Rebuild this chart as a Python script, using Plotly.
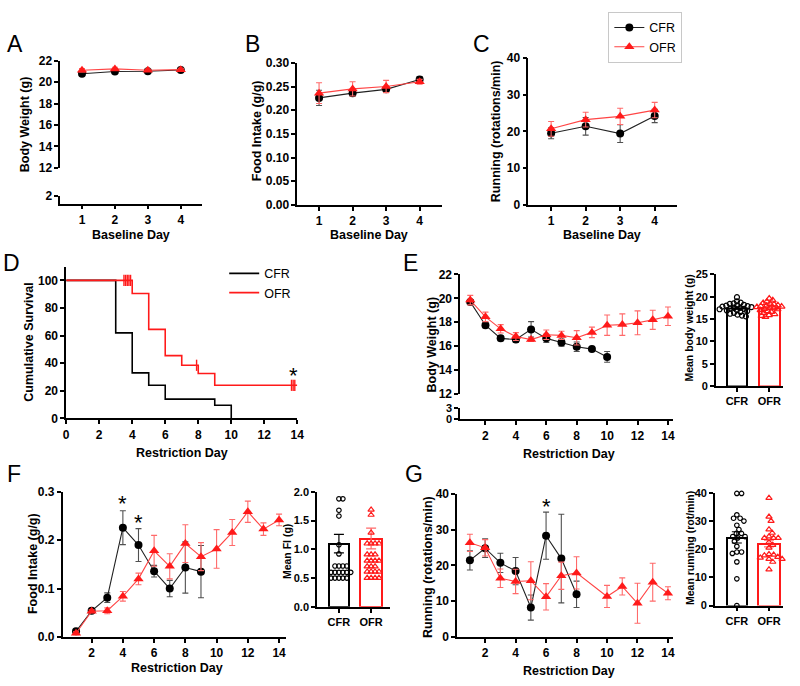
import math
import plotly.graph_objects as go

W, H = 800, 686
BLACK = '#000000'
RED = '#ff1a1a'
RED_LINE = '#ff4545'
RED_ERR = '#ff6a6a'
GREY_ERR = '#505050'
FONT = 'Arial, "Liberation Sans", Helvetica, sans-serif'

# ---------------- DATA ----------------
base_days = [1, 2, 3, 4]
bw_base_cfr = [20.8, 21.0, 21.03, 21.15]
bw_base_cfr_err = [0.15, 0.12, 0.1, 0.1]
bw_base_ofr = [21.12, 21.25, 21.12, 21.18]
bw_base_ofr_err = [0.15, 0.15, 0.12, 0.12]

fi_base_cfr = [0.226, 0.236, 0.244, 0.265]
fi_base_cfr_err = [0.016, 0.006, 0.006, 0.006]
fi_base_ofr = [0.236, 0.245, 0.250, 0.260]
fi_base_ofr_err = [0.022, 0.015, 0.013, 0.005]

run_base_cfr = [19.5, 21.4, 19.4, 24.2]
run_base_cfr_err = [1.5, 2.4, 2.4, 1.8]
run_base_ofr = [20.7, 23.2, 24.1, 25.8]
run_base_ofr_err = [2.0, 2.0, 2.2, 2.1]

surv_cfr_day = [0, 3, 4, 5, 6, 9, 10]
surv_cfr = [100, 62, 33, 24, 14, 9.5, 0]
surv_ofr_day = [0, 4, 5, 6, 7, 8, 9, 14]
surv_ofr = [100, 90.5, 64.5, 45.5, 38.5, 32.5, 24, 24]
cens_day = [3.5, 3.6, 3.7, 3.8, 3.9, 7.9, 13.65, 13.75, 13.85]
cens_val = [100, 100, 100, 100, 100, 38.5, 24, 24, 24]

days_cfr = [1, 2, 3, 4, 5, 6, 7, 8, 9, 10]
days_ofr = [1, 2, 3, 4, 5, 6, 7, 8, 9, 10, 11, 12, 13, 14]
bw_cfr = [19.7, 17.75, 16.65, 16.55, 17.4, 16.65, 16.3, 15.95, 15.75, 15.1]
bw_cfr_err = [0.2, 0.2, 0.2, 0.25, 0.65, 0.35, 0.3, 0.4, 0.08, 0.45]
bw_ofr = [19.85, 18.45, 17.45, 16.8, 16.55, 16.95, 16.9, 16.7, 17.15, 17.75, 17.8, 17.95, 18.2, 18.5]
bw_ofr_err = [0.4, 0.4, 0.35, 0.33, 0.15, 0.4, 0.35, 0.6, 0.44, 0.85, 0.9, 1.0, 0.8, 0.77]

groups = ['CFR', 'OFR']
bw_mean = [17.5, 17.5]
bw_mean_err = [0.25, 0.22]
bw_pts_cfr = [19.9, 19.0, 18.7, 18.5, 18.4, 18.2, 18.1, 18.0, 17.9, 17.8, 17.7, 17.6,
              17.5, 17.4, 17.3, 17.2, 17.0, 16.9, 16.8, 16.6, 16.4, 16.2, 16.0, 15.8, 15.6]
bw_pts_ofr = [19.6, 19.2, 18.9, 18.6, 18.4, 18.3, 18.1, 18.0, 17.9, 17.8, 17.7, 17.6,
              17.5, 17.4, 17.3, 17.2, 17.0, 16.8, 16.6, 16.4, 16.1, 15.9, 15.7, 15.5]

fi_cfr = [0.0115, 0.054, 0.081, 0.226, 0.190, 0.136, 0.100, 0.1435, 0.135]
fi_cfr_err = [0.003, 0.003, 0.01, 0.035, 0.034, 0.012, 0.017, 0.053, 0.054]
fi_ofr = [0.0075, 0.053, 0.054, 0.084, 0.120, 0.178, 0.146, 0.193, 0.166, 0.182, 0.216, 0.259, 0.223, 0.242]
fi_ofr_err = [0.003, 0.003, 0.006, 0.01, 0.012, 0.032, 0.026, 0.039, 0.029, 0.04, 0.027, 0.022, 0.013, 0.012]
days_fi_cfr = [1, 2, 3, 4, 5, 6, 7, 8, 9]

fi_mean = [1.10, 1.19]
fi_mean_err = [0.16, 0.18]
fi_pts_cfr = [1.88, 1.88, 1.68, 1.58, 1.08, 0.92, 0.71, 0.71, 0.71, 0.71,
              0.60, 0.60, 0.60, 0.60, 0.60, 0.60, 0.50, 0.50, 0.50, 0.50, 0.50]
fi_pts_ofr = [1.69, 1.60, 1.29, 1.10, 1.10, 1.10, 1.10, 0.91, 0.91, 0.91,
              0.80, 0.80, 0.80, 0.80, 0.70, 0.70, 0.70, 0.61, 0.61, 0.61, 0.61,
              0.50, 0.50, 0.50, 0.50]

days_run_cfr = [1, 2, 3, 4, 5, 6, 7, 8]
run_cfr = [21.4, 24.8, 20.7, 18.4, 8.2, 28.3, 21.9, 11.9]
run_cfr_err = [2.7, 2.6, 2.7, 3.8, 3.5, 6.6, 12.4, 3.7]
days_run_ofr = [1, 2, 3, 4, 5, 6, 7, 8, 10, 11, 12, 13, 14]
run_ofr = [26.3, 24.9, 16.4, 15.5, 15.7, 11.2, 17.1, 17.9, 11.3, 14.1, 9.4, 15.3, 12.2]
run_ofr_err = [2.4, 2.3, 2.6, 3.4, 5.3, 3.7, 3.8, 4.5, 3.1, 2.4, 5.6, 5.3, 1.8]

run_mean = [24.2, 22.0]
run_mean_err = [2.0, 1.2]
run_pts_cfr = [39.8, 39.8, 32.2, 31.0, 31.0, 30.0, 28.5, 27.0, 25.6, 25.6, 24.5,
               24.5, 24.0, 22.8, 21.0, 19.0, 19.0, 18.5, 15.5, 9.5, 0.0]
run_pts_ofr = [38.2, 31.5, 30.0, 27.0, 25.8, 24.5, 24.0, 24.0, 24.0, 22.5, 21.5,
               20.5, 18.2, 18.0, 17.8, 17.2, 17.0, 16.5, 16.5, 15.5, 12.8]


# ---------------- helpers ----------------
def dxp(a, b):
    return [a / W, b / W]


def dyp(top, bottom):
    return [1 - bottom / H, 1 - top / H]


def swarm(vals, center, ppu_y, ppu_x, d):
    order = sorted(range(len(vals)), key=lambda i: -vals[i])
    placed = []
    xs = [0.0] * len(vals)
    for i in order:
        y = vals[i] * ppu_y
        forb = []
        for (px_, py_) in placed:
            ddy = abs(py_ - y)
            if ddy < d:
                w = math.sqrt(d * d - ddy * ddy)
                forb.append((px_ - w, px_ + w))
        cands = [0.0] + [a for iv in forb for a in iv]
        cands.sort(key=lambda c: (round(abs(c), 6), -c))
        chosen = 0.0
        for c in cands:
            if all(not (lo + 1e-6 < c < hi - 1e-6) for lo, hi in forb):
                chosen = c
                break
        placed.append((chosen, y))
        xs[i] = center + chosen / ppu_x
    return xs


TICKFONT = dict(family=FONT, size=12, color='black', weight='bold')
TICKFONT_S = dict(family=FONT, size=11, color='black', weight='bold')


def xax(dom, rng, anchor, **kw):
    d = dict(domain=dxp(*dom), range=rng, anchor=anchor, showline=True, linecolor='black',
             linewidth=1.6, ticks='outside', ticklen=4, tickwidth=1.6, tickcolor='black',
             showgrid=False, zeroline=False, tickfont=TICKFONT, fixedrange=True)
    d.update(kw)
    return d


def yax(dom, rng, anchor, **kw):
    d = dict(domain=dyp(*dom), range=rng, anchor=anchor, showline=True, linecolor='black',
             linewidth=1.6, ticks='outside', ticklen=4, tickwidth=1.6, tickcolor='black',
             showgrid=False, zeroline=False, tickfont=TICKFONT, fixedrange=True)
    d.update(kw)
    return d


fig = go.Figure()


def line_pair(xa, ya, xc, yc, ec, xo, yo, eo, showlegend=False, msize=8):
    fig.add_trace(go.Scatter(
        x=xc, y=yc, xaxis=xa, yaxis=ya, mode='lines+markers', name='CFR',
        line=dict(color='#222222', width=1.1),
        marker=dict(symbol='circle', size=msize, color=BLACK),
        error_y=dict(type='data', array=ec, color=GREY_ERR, thickness=1.1, width=3),
        showlegend=showlegend, legend='legend', cliponaxis=False, hoverinfo='skip'))
    fig.add_trace(go.Scatter(
        x=xo, y=yo, xaxis=xa, yaxis=ya, mode='lines+markers', name='OFR',
        line=dict(color=RED_LINE, width=1.1),
        marker=dict(symbol='triangle-up', size=msize + 1, color=RED),
        error_y=dict(type='data', array=eo, color=RED_ERR, thickness=1.1, width=3),
        showlegend=showlegend, legend='legend', cliponaxis=False, hoverinfo='skip'))


def bar_panel(xa, ya, means, errs, pc, po, ppu_y, ppu_x, dist, msize):
    fig.add_trace(go.Bar(x=[0], y=[means[0]], xaxis=xa, yaxis=ya, width=0.64,
                         marker=dict(color='white', line=dict(color=BLACK, width=2)),
                         error_y=dict(type='data', array=[errs[0]], color=BLACK, thickness=1.2, width=5),
                         showlegend=False, hoverinfo='skip'))
    fig.add_trace(go.Bar(x=[1], y=[means[1]], xaxis=xa, yaxis=ya, width=0.66,
                         marker=dict(color='white', line=dict(color=RED, width=2)),
                         error_y=dict(type='data', array=[errs[1]], color=RED_ERR, thickness=1.2, width=5),
                         showlegend=False, hoverinfo='skip'))
    fig.add_trace(go.Scatter(x=swarm(pc, 0, ppu_y, ppu_x, dist), y=pc, xaxis=xa, yaxis=ya,
                             mode='markers', showlegend=False, hoverinfo='skip', cliponaxis=False,
                             marker=dict(symbol='circle-open', size=msize, color=BLACK,
                                         line=dict(width=1.2, color=BLACK))))
    fig.add_trace(go.Scatter(x=swarm(po, 1, ppu_y, ppu_x, dist), y=po, xaxis=xa, yaxis=ya,
                             mode='markers', showlegend=False, hoverinfo='skip', cliponaxis=False,
                             marker=dict(symbol='triangle-up-open', size=msize + 1, color=RED,
                                         line=dict(width=1.2, color=RED))))


def dummy(xa, ya):
    fig.add_trace(go.Scatter(x=[None], y=[None], xaxis=xa, yaxis=ya, mode='markers',
                             showlegend=False, hoverinfo='skip'))


# A
line_pair('x', 'y', base_days, bw_base_cfr, bw_base_cfr_err, base_days, bw_base_ofr, bw_base_ofr_err)
dummy('x', 'y2')
# B
line_pair('x2', 'y3', base_days, fi_base_cfr, fi_base_cfr_err, base_days, fi_base_ofr, fi_base_ofr_err)
# C (carries the legend)
line_pair('x3', 'y4', base_days, run_base_cfr, run_base_cfr_err, base_days, run_base_ofr, run_base_ofr_err,
          showlegend=True)
# D
fig.add_trace(go.Scatter(x=surv_cfr_day, y=surv_cfr, xaxis='x4', yaxis='y5', mode='lines', name='CFR',
                         line=dict(color=BLACK, width=1.6, shape='hv'), legend='legend2',
                         cliponaxis=False, hoverinfo='skip'))
fig.add_trace(go.Scatter(x=surv_ofr_day, y=surv_ofr, xaxis='x4', yaxis='y5', mode='lines', name='OFR',
                         line=dict(color=RED, width=1.6, shape='hv'), legend='legend2',
                         cliponaxis=False, hoverinfo='skip'))
fig.add_trace(go.Scatter(x=cens_day, y=cens_val, xaxis='x4', yaxis='y5', mode='markers',
                         marker=dict(symbol='line-ns', size=8, line=dict(color=RED, width=1.4)),
                         showlegend=False, cliponaxis=False, hoverinfo='skip'))
# E
line_pair('x5', 'y6', days_cfr, bw_cfr, bw_cfr_err, days_ofr, bw_ofr, bw_ofr_err)
dummy('x5', 'y7')
bar_panel('x6', 'y8', bw_mean, bw_mean_err, bw_pts_cfr, bw_pts_ofr, 114 / 25, 32.7, 4.0, 5)
# F
line_pair('x7', 'y9', days_fi_cfr, fi_cfr, fi_cfr_err, days_ofr, fi_ofr, fi_ofr_err)
bar_panel('x8', 'y10', fi_mean, fi_mean_err, fi_pts_cfr, fi_pts_ofr, 117.3 / 2, 32.7, 4.0, 4.5)
# G
line_pair('x9', 'y11', days_run_cfr, run_cfr, run_cfr_err, days_run_ofr, run_ofr, run_ofr_err)
bar_panel('x10', 'y12', run_mean, run_mean_err, run_pts_cfr, run_pts_ofr, 115 / 40, 32.7, 4.8, 4.5)

cat_kw = dict(tickvals=[0, 1], ticktext=groups, tickfont=TICKFONT_S)
days_ticks = [2, 4, 6, 8, 10, 12, 14]
TICKFONT_BRK = dict(family=FONT, size=11, color='black', weight='bold')

layout_axes = dict(
    xaxis=xax((58, 202), [0.34, 4.66], 'y2', tickvals=base_days),
    yaxis=yax((55, 164), [12, 22], 'x', tickvals=[12, 14, 16, 18, 20, 22]),
    yaxis2=yax((193, 200.7), [0, 2], 'x', tickvals=[2]),
    xaxis2=xax((298, 445), [0.35, 4.68], 'y3', tickvals=base_days),
    yaxis3=yax((57, 202), [0, 0.30], 'x2', dtick=0.05, tickformat='.2f'),
    xaxis3=xax((532, 683), [0.34, 4.66], 'y4', tickvals=base_days),
    yaxis4=yax((52, 202), [0, 40], 'x3', dtick=10),
    xaxis4=xax((64, 298), [0, 14], 'y5', dtick=2),
    yaxis5=yax((265, 420), [0, 110], 'x4', tickvals=[0, 20, 40, 60, 80, 100]),
    xaxis5=xax((463, 678), [0.34, 14.3], 'y7', tickvals=days_ticks),
    yaxis6=yax((273, 395), [12, 22], 'x5', tickvals=[12, 14, 16, 18, 20, 22]),
    yaxis7=yax((409, 421), [0, 3], 'x5', tickvals=[0, 3], tickfont=TICKFONT_BRK),
    xaxis6=xax((722, 790), [-0.65, 1.43], 'y8', **cat_kw),
    yaxis8=yax((273, 387), [0, 25], 'x6', dtick=5, tickfont=TICKFONT_S),
    xaxis7=xax((60.5, 287), [0.15, 14.47], 'y9', tickvals=days_ticks),
    yaxis9=yax((495, 643), [0, 0.3], 'x7', dtick=0.1, tickformat='.1f'),
    xaxis8=xax((318, 392), [-0.68, 1.59], 'y10', **cat_kw),
    yaxis10=yax((495, 612.3), [0, 2.0], 'x8', dtick=0.5, tickformat='.1f', tickfont=TICKFONT_S),
    xaxis9=xax((460, 678), [0.17, 14.3], 'y11', tickvals=days_ticks),
    yaxis11=yax((497, 643), [0, 40], 'x9', dtick=10),
    xaxis10=xax((721, 790), [-0.68, 1.44], 'y12', **cat_kw),
    yaxis12=yax((496, 611), [0, 40], 'x10', dtick=10, tickfont=TICKFONT_S),
)

ann = []


def text(x, y, s, size=12.5, bold=True, angle=0, xanchor='center', yanchor='middle',
         xref=None, yref=None):
    a = dict(text=s, showarrow=False, textangle=angle, xanchor=xanchor, yanchor=yanchor,
             font=dict(family=FONT, size=size, color='black', weight='bold' if bold else 'normal'))
    if xref:
        a.update(x=x, y=y, xref=xref, yref=yref)
    else:
        a.update(x=x / W, y=1 - y / H, xref='paper', yref='paper')
    ann.append(a)


# panel letters
for letter, x, y in [('A', 12, 38), ('B', 253, 38), ('C', 485, 38), ('D', 9, 261),
                     ('E', 413, 261), ('F', 11, 477), ('G', 416, 477)]:
    text(x, y, letter, size=23, bold=False)

# x titles
text(130, 233, 'Baseline Day')
text(371, 233, 'Baseline Day')
text(607, 233, 'Baseline Day')
text(181, 455, 'Restriction Day')
text(573, 456, 'Restriction Day')
text(176, 675, 'Restriction Day')
text(573, 678, 'Restriction Day')

# y titles
text(22, 120, 'Body Weight (g)', angle=-90)
text(258, 126, 'Food Intake (g/g)', angle=-90)
text(500, 127, 'Running (rotations/min)', angle=-90)
text(26, 342, 'Cumulative Survival', angle=-90)
text(434, 345, 'Body Weight (g)', angle=-90)
text(695, 328, 'Mean body weight (g)', size=10.5, angle=-90)
text(31, 568, 'Food Intake (g/g)', angle=-90)
text(287, 556, 'Mean FI (g)', size=10.5, angle=-90)
text(431, 572, 'Running (rotations/min)', angle=-90)
text(695, 552, 'Mean running (rot/min)', size=10.5, angle=-90)

# asterisks (significance markers)
text(13.78, 31, '*', size=22, bold=False, xref='x4', yref='y5')
text(4, 0.276, '*', size=22, bold=False, xref='x7', yref='y9')
text(5, 0.236, '*', size=22, bold=False, xref='x7', yref='y9')
text(6, 36.5, '*', size=22, bold=False, xref='x9', yref='y11')

fig.update_layout(
    width=W, height=H, margin=dict(l=0, r=0, t=0, b=0),
    paper_bgcolor='white', plot_bgcolor='white',
    font=dict(family=FONT, color='black'),
    bargap=0,
    annotations=ann,
    legend=dict(x=613 / W, y=1 - 5 / H, xanchor='left', yanchor='top',
                bordercolor='#c8c8c8', borderwidth=1, bgcolor='white',
                font=dict(family=FONT, size=12.5, color='black'), tracegroupgap=0,
                itemwidth=30),
    legend2=dict(x=224 / W, y=1 - 257 / H, xanchor='left', yanchor='top',
                 bgcolor='rgba(0,0,0,0)', borderwidth=0,
                 font=dict(family=FONT, size=12.5, color='black'), itemwidth=30),
    **layout_axes,
)

fig.write_html('out.html')
